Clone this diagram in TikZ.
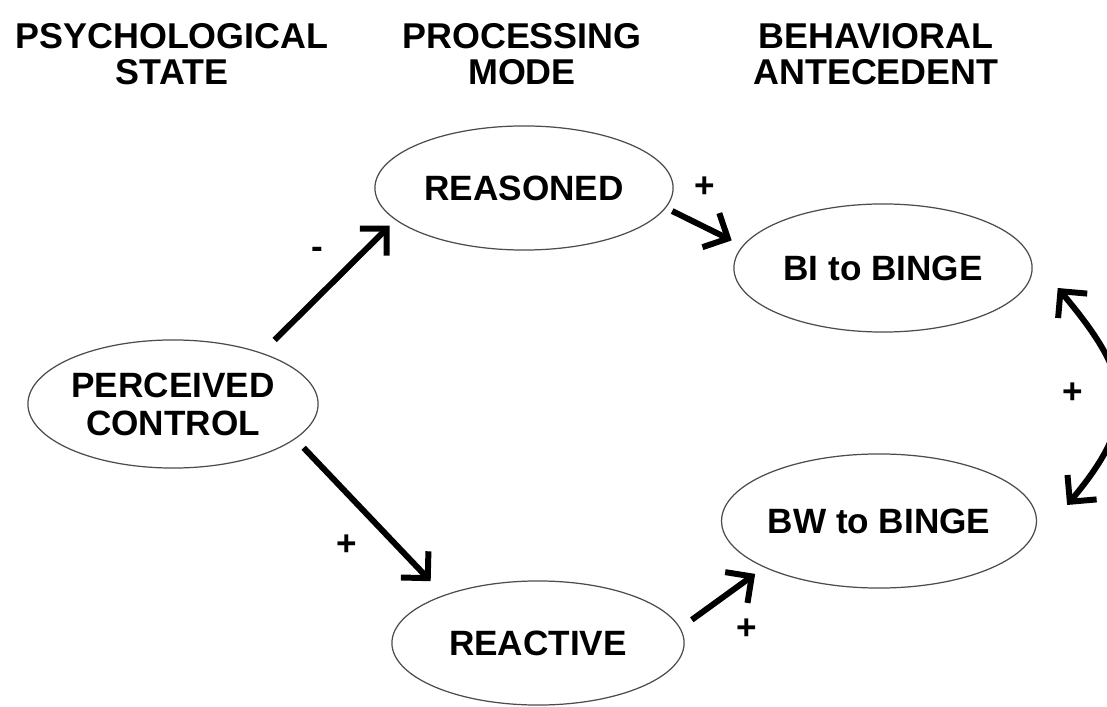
\documentclass[tikz,border=0pt]{standalone}
\usepackage{fontspec}
\setmainfont{Liberation Sans}
\usetikzlibrary{shapes.geometric,arrows.meta}

\def\ellwd{2.98cm}
\def\ellht{1.28cm}

\begin{document}
\begin{tikzpicture}[x=0.01cm,y=-0.01cm,
    state/.style={ellipse,draw=black!70,line width=0.35pt,inner sep=0pt,
      minimum width=\ellwd,minimum height=\ellht,align=center,
      font=\fontsize{10}{10.8}\selectfont\bfseries},
    head/.style={inner sep=0pt,align=center,font=\fontsize{10.2}{10.4}\selectfont\bfseries},
    sign/.style={inner sep=0pt,font=\fontsize{10}{12}\selectfont\bfseries},
    barb/.tip={Straight Barb[length=1.9mm,width=3.8mm]},
    link/.style={line width=1.7pt,-barb}]
        \clip (0,0) rectangle (1107,707);
        \fill[white] (0,0) rectangle (1107,707);
        % column headings
        \node[head] (hpsy) at (172,54) {PSYCHOLOGICAL\\STATE};
        \node[head] (hproc) at (522,54) {PROCESSING\\MODE};
        \node[head] (hbeh) at (876,54) {BEHAVIORAL\\ANTECEDENT};
        % ellipses
        \node[state,minimum width=2.90cm] (perc) at (173,404) {PERCEIVED\\CONTROL};
        \node[state,minimum height=1.24cm] (reas) at (524,188) {REASONED};
        \node[state,minimum width=2.92cm,minimum height=1.24cm] (reac) at (538,643) {REACTIVE};
        \node[state] (bi) at (883,268) {BI to BINGE};
        \node[state,minimum height=1.34cm] (bw) at (879,521) {BW to BINGE};
        % paths between them
        \draw[link,shorten <=1.8mm,shorten >=0.8mm] (perc.30) -- (reas.194);
        \draw[link,shorten <=1.2mm,shorten >=1.9mm] (perc.-16) -- (reac.153);
        \draw[link,shorten <=0.7mm,shorten >=1.2mm] (reas.-8) -- (bi.171);
        \draw[link,shorten <=1.4mm,shorten >=1.1mm] (reac.6) -- (bw.202);
        % two-way path on the right
        \draw[line width=1.7pt,barb-barb] ([xshift=3mm,yshift=1.6mm]bw.east)
            .. controls +(50:1.15cm) and +(-50:1.15cm) .. ([xshift=2.5mm,yshift=-2mm]bi.east);
        % signs
        \node[sign] (minus) at (317,253) {-};
        \node[sign] (plusrb) at (705,187) {+};
        \node[sign] (pluspr) at (347,545) {+};
        \node[sign] (plusrw) at (747,629) {+};
        \node[sign] (plusbb) at (1073,393) {+};
\end{tikzpicture}
\end{document}
